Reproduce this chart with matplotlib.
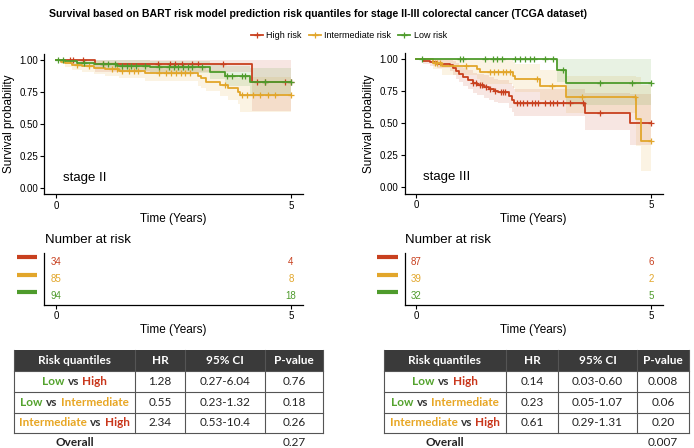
import numpy as np
import matplotlib.pyplot as plt
from matplotlib.lines import Line2D
from matplotlib.patches import Rectangle
from matplotlib.transforms import blended_transform_factory

plt.rcParams['font.family'] = ['Liberation Sans', 'DejaVu Sans']

W, H = 694, 448
RED, YEL, GRN = '#C8401F', '#E2A62B', '#4E9B2C'
groups = ['High risk', 'Intermediate risk', 'Low risk']
colors = [RED, YEL, GRN]

# ---- stage II curves (time in years) ----
s2_high_t = [0.82, 4.16]
s2_high_s = [0.971, 0.83]
s2_high_lo = [0.91, 0.60]
s2_high_hi = [1.0, 1.0]
s2_high_c = [0.3, 0.36, 0.57, 1.0, 2.17, 2.43, 2.53, 2.68, 2.89, 3.02, 3.55, 4.28, 4.45, 4.87, 5.0]

s2_int_t = [0.1, 0.2, 0.35, 0.55, 0.8, 1.05, 1.35, 1.9, 3.02, 3.08, 3.2, 3.49, 3.66, 3.88, 3.92]
s2_int_s = [0.988, 0.976, 0.964, 0.952, 0.94, 0.928, 0.916, 0.896, 0.872, 0.857, 0.83, 0.805, 0.779, 0.753, 0.727]
s2_int_lo = [0.965, 0.945, 0.925, 0.91, 0.89, 0.875, 0.86, 0.835, 0.80, 0.785, 0.755, 0.72, 0.69, 0.66, 0.59]
s2_int_hi = [1.0, 1.0, 1.0, 0.995, 0.99, 0.985, 0.98, 0.965, 0.95, 0.94, 0.92, 0.90, 0.88, 0.86, 0.87]
s2_int_c = [0.45, 0.7, 1.2, 1.3, 1.4, 1.55, 1.65, 1.75, 2.2, 2.35, 2.45, 2.55, 2.65, 2.75, 2.85,
            3.6, 3.96, 4.06, 4.2, 4.34, 4.51, 4.66, 5.0]

s2_low_t = [0.2, 0.45, 0.8, 1.3, 2.0, 3.28, 3.6, 4.13]
s2_low_s = [0.989, 0.978, 0.967, 0.956, 0.945, 0.909, 0.875, 0.826]
s2_low_lo = [0.968, 0.948, 0.93, 0.915, 0.90, 0.85, 0.80, 0.72]
s2_low_hi = [1.0, 1.0, 1.0, 0.998, 0.99, 0.97, 0.95, 0.94]
s2_low_c = [0.05, 0.15, 0.6, 1.0, 1.1, 1.25, 1.4, 1.5, 1.6, 1.7, 1.9, 2.2, 2.4, 2.5, 2.6, 2.7,
            2.8, 2.9, 3.1, 3.64, 3.74, 3.96, 4.02, 4.45, 5.0]

# ---- stage III curves ----
s3_high_t = [0.15, 0.3, 0.45, 0.72, 0.78, 0.84, 0.9, 1.0, 1.1, 1.2, 1.3, 1.45, 1.55, 1.65, 1.75,
             1.98, 2.03, 2.08, 3.6, 4.55]
s3_high_s = [0.988, 0.977, 0.965, 0.953, 0.93, 0.907, 0.884, 0.861, 0.838, 0.815, 0.80, 0.785,
             0.77, 0.755, 0.742, 0.712, 0.683, 0.655, 0.578, 0.50]
s3_high_lo = [0.965, 0.945, 0.93, 0.91, 0.88, 0.85, 0.82, 0.79, 0.765, 0.74, 0.72, 0.70, 0.685,
              0.67, 0.655, 0.62, 0.59, 0.555, 0.445, 0.33]
s3_high_hi = [1.0, 1.0, 1.0, 0.998, 0.985, 0.97, 0.95, 0.935, 0.915, 0.895, 0.885, 0.875, 0.86,
              0.85, 0.84, 0.815, 0.79, 0.77, 0.74, 0.73]
s3_high_c = [1.2, 1.28, 1.35, 1.4, 1.48, 1.58, 1.68, 1.8, 1.85, 1.9, 2.15, 2.2, 2.28, 2.35, 2.46,
             2.53, 2.6, 2.74, 2.85, 2.92, 3.0, 3.13, 3.28, 3.55, 3.92, 5.0]

s3_int_t = [0.35, 0.55, 1.3, 1.36, 2.05, 2.1, 2.64, 3.18, 4.69, 4.78]
s3_int_s = [0.974, 0.949, 0.923, 0.897, 0.872, 0.846, 0.791, 0.708, 0.53, 0.36]
s3_int_lo = [0.925, 0.88, 0.845, 0.81, 0.775, 0.745, 0.68, 0.58, 0.32, 0.13]
s3_int_hi = [1.0, 1.0, 1.0, 0.995, 0.98, 0.96, 0.92, 0.87, 0.86, 0.80]
s3_int_c = [0.4, 0.45, 0.5, 1.06, 1.57, 1.65, 1.75, 1.85, 1.92, 2.0, 2.57, 2.89, 3.53, 4.66, 5.0]

s3_low_t = [3.0, 3.18]
s3_low_s = [0.916, 0.817]
s3_low_lo = [0.82, 0.64]
s3_low_hi = [1.0, 1.0]
s3_low_c = [0.12, 0.93, 1.0, 1.46, 1.64, 1.71, 1.82, 2.1, 2.21, 2.32, 2.42, 2.5, 2.74, 2.92,
            3.13, 3.92, 4.59, 5.0]

# number at risk at t = 0 and t = 5 (High, Intermediate, Low)
s2_risk0 = [34, 85, 94]
s2_risk5 = [4, 8, 18]
s3_risk0 = [87, 39, 32]
s3_risk5 = [6, 2, 5]

# hazard ratio tables
comparisons = [('Low', 'High'), ('Low', 'Intermediate'), ('Intermediate', 'High')]
s2_hr = ['1.28', '0.55', '2.34']
s2_ci = ['0.27-6.04', '0.23-1.32', '0.53-10.4']
s2_p = ['0.76', '0.18', '0.26']
s2_overall = '0.27'
s3_hr = ['0.14', '0.23', '0.61']
s3_ci = ['0.03-0.60', '0.05-1.07', '0.29-1.31']
s3_p = ['0.008', '0.06', '0.20']
s3_overall = '0.007'

word_col = {'Low': '#54A32E', 'High': '#C9371C', 'Intermediate': '#E8A623'}


def px_box(l, t, r, b):
    return [l / W, 1 - b / H, (r - l) / W, (b - t) / H]


fig = plt.figure(figsize=(W / 100, H / 100), dpi=100)
ov = fig.add_axes([0, 0, 1, 1], zorder=-1)
ov.set_xlim(0, W)
ov.set_ylim(H, 0)
ov.axis('off')


def km_panel(box, curves, label):
    ax = fig.add_axes(box)
    for (t, s, lo, hi, cens), c in zip(curves, colors):
        tt = np.r_[0, t, 5.0]
        ss = np.r_[1.0, s, s[-1]]
        ll = np.r_[1.0, lo, lo[-1]]
        uu = np.r_[1.0, hi, hi[-1]]
        ax.fill_between(tt, ll, uu, step='post', color=c, alpha=0.13, lw=0)
        ax.step(tt, ss, where='post', color=c, lw=1.3)
        cens = np.array(cens)
        idx = np.searchsorted(tt, cens, side='right') - 1
        ax.plot(cens, ss[idx], ls='none', marker='+', color=c, ms=5, mew=0.9)
    ax.set_xlim(-0.25, 5.25)
    ax.set_ylim(-0.05, 1.05)
    ax.set_xticks([0, 5])
    ax.set_yticks([0, 0.25, 0.5, 0.75, 1.0])
    ax.set_yticklabels(['0.00', '0.25', '0.50', '0.75', '1.00'])
    ax.tick_params(labelsize=7, length=3, width=0.8, pad=1.5, colors='black')
    for sp in ['top', 'right']:
        ax.spines[sp].set_visible(False)
    for sp in ['left', 'bottom']:
        ax.spines[sp].set_linewidth(0.9)
    ax.set_xlabel('Time (Years)', fontsize=8.5, labelpad=2)
    ax.set_ylabel('Survival probability', fontsize=8.5, labelpad=3)
    ax.text(0.15, 0.08, label, fontsize=9.5, va='center', ha='left')
    return ax


def risk_panel(box, n0, n5, bar_x):
    ax = fig.add_axes(box)
    ax.set_xlim(-0.25, 5.25)
    ax.set_ylim(3.5, 0.5)
    rows = np.arange(1, 4)
    tr = blended_transform_factory(fig.transFigure, ax.transData)
    for r, a, b, c in zip(rows, n0, n5, colors):
        ax.text(0, r, str(a), color=c, fontsize=7, ha='center', va='center')
        ax.text(5, r, str(b), color=c, fontsize=7, ha='center', va='center')
        ax.plot([bar_x[0] / W, bar_x[1] / W], [r - 0.25, r - 0.25], color=c, lw=3,
                transform=tr, clip_on=False, solid_capstyle='butt')
    ax.set_xticks([0, 5])
    ax.set_yticks([])
    ax.tick_params(labelsize=7, length=3, width=0.8, pad=1.5)
    for sp in ['top', 'right']:
        ax.spines[sp].set_visible(False)
    for sp in ['left', 'bottom']:
        ax.spines[sp].set_linewidth(0.9)
    ax.set_xlabel('Time (Years)', fontsize=8.5, labelpad=2)
    return ax


km_panel(px_box(44.25, 53.6, 302.75, 194.4),
         [(s2_high_t, s2_high_s, s2_high_lo, s2_high_hi, s2_high_c),
          (s2_int_t, s2_int_s, s2_int_lo, s2_int_hi, s2_int_c),
          (s2_low_t, s2_low_s, s2_low_lo, s2_low_hi, s2_low_c)], 'stage II')
km_panel(px_box(404.6, 52.9, 662.7, 193.7),
         [(s3_high_t, s3_high_s, s3_high_lo, s3_high_hi, s3_high_c),
          (s3_int_t, s3_int_s, s3_int_lo, s3_int_hi, s3_int_c),
          (s3_low_t, s3_low_s, s3_low_lo, s3_low_hi, s3_low_c)], 'stage III')

risk_panel(px_box(44.25, 253, 302.75, 305), s2_risk0, s2_risk5, (17, 37))
risk_panel(px_box(404.6, 253, 662.7, 305), s3_risk0, s3_risk5, (377, 398))
ov.text(45, 240, 'Number at risk', fontsize=9.5, ha='left', va='center')
ov.text(405, 240, 'Number at risk', fontsize=9.5, ha='left', va='center')

fig.suptitle('Survival based on BART risk model prediction risk quantiles for stage II-III '
             'colorectal cancer (TCGA dataset)', x=318 / W, y=1 - 14 / H, va='center',
             fontsize=7.6, fontweight='bold')

handles = [Line2D([], [], color=c, lw=1.3, marker='+', ms=5, mew=0.9) for c in colors]
fig.legend(handles, groups, loc='center', bbox_to_anchor=(349 / W, 1 - 36 / H), ncol=3,
           frameon=False, fontsize=6.5, handlelength=1.3, handletextpad=0.4, columnspacing=0.8)

# ---- tables ----
renderer = fig.canvas.get_renderer()
TF = ['Lato', 'DejaVu Sans']


def multi_text(xc, yc, parts, size):
    objs = []
    for txt, c in parts:
        objs.append(ov.text(0, yc, txt, color=c, fontsize=size, fontweight='bold',
                            ha='left', va='center', family=TF))
    gap = 3.2
    widths = [o.get_window_extent(renderer).width for o in objs]
    total = sum(widths) + gap * (len(objs) - 1)
    x = xc - total / 2
    for o, w in zip(objs, widths):
        o.set_x(x)
        x += w + gap


def hr_table(xs, hr, ci, pv, overall):
    ys = [350, 371, 392, 413, 433]
    ov.add_patch(Rectangle((xs[0], ys[0]), xs[-1] - xs[0], ys[1] - ys[0], color='#3A3A3A', lw=0))
    for y in ys[1:]:
        ov.plot([xs[0], xs[-1]], [y, y], color='#555555', lw=0.8)
    for x in xs:
        ov.plot([x, x], [ys[0], ys[-1]], color='#555555', lw=0.8)
    heads = ['Risk quantiles', 'HR', '95% CI', 'P-value']
    cx = [(xs[i] + xs[i + 1]) / 2 for i in range(4)]
    for x, h in zip(cx, heads):
        ov.text(x, (ys[0] + ys[1]) / 2, h, color='white', fontsize=8.5, fontweight='bold',
                ha='center', va='center', family=TF)
    for i, (a, b) in enumerate(comparisons):
        yc = (ys[i + 1] + ys[i + 2]) / 2
        multi_text(cx[0], yc, [(a, word_col[a]), ('vs', '#333333'), (b, word_col[b])], 8.5)
        for j, val in enumerate([hr[i], ci[i], pv[i]]):
            ov.text(cx[j + 1], yc, val, fontsize=8.5, ha='center', va='center', family=TF,
                    color='#222222')
    ov.text(cx[0], 443, 'Overall', fontsize=8.5, fontweight='bold', ha='center', va='center',
            family=TF, color='#222222')
    ov.text(cx[3], 443, overall, fontsize=8.5, ha='center', va='center', family=TF,
            color='#222222')


hr_table([14, 135, 185, 265, 323], s2_hr, s2_ci, s2_p, s2_overall)
hr_table([384, 506, 558, 637, 689], s3_hr, s3_ci, s3_p, s3_overall)

fig.savefig('out.png', dpi=100)
